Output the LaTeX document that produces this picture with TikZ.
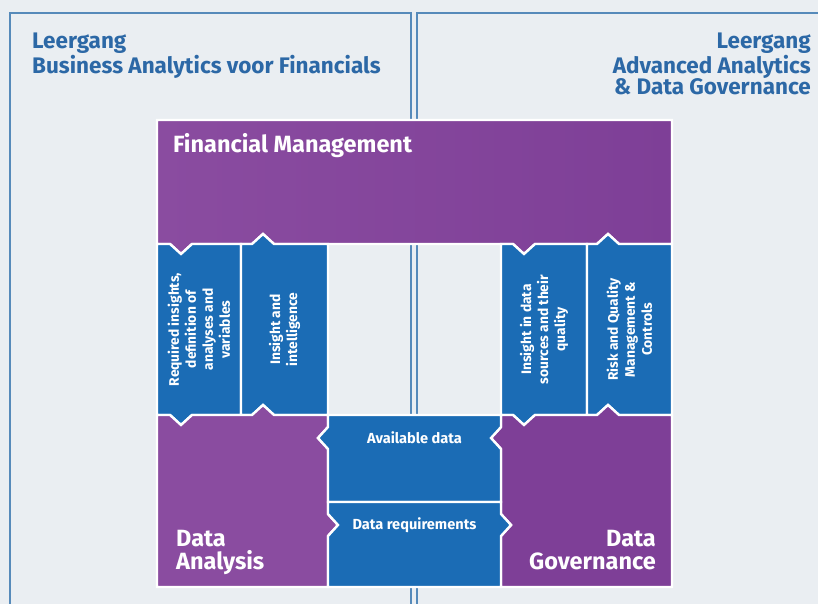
\documentclass[tikz,border=0pt]{standalone}
\usepackage{fontspec}
\setmainfont{Fira Sans}

\definecolor{pagebg}{RGB}{234,238,242}
\definecolor{framebl}{RGB}{86,138,186}
\definecolor{titlebl}{RGB}{44,104,166}
\definecolor{purpL}{RGB}{138,76,160}
\definecolor{purpR}{RGB}{126,63,151}
\definecolor{boxbl}{RGB}{27,108,181}

\tikzset{
    panel/.style={draw=framebl, line width=2pt},
    pblock/.style={draw=white, line width=2.4pt, line join=miter},
    bblock/.style={pblock, fill=boxbl},
    headtxt/.style={text=titlebl, font=\bfseries\fontsize{22.5}{21.5}\selectfont, inner sep=0pt},
    mgmttxt/.style={text=white, font=\bfseries\fontsize{23.5}{23}\selectfont, inner sep=0pt},
    vtxt/.style={text=white, font=\bfseries\fontsize{13.8}{17}\selectfont, align=center, rotate=90, inner sep=0pt},
    htxt/.style={text=white, font=\bfseries\fontsize{14.6}{16}\selectfont, inner sep=0pt}
}

\begin{document}
\begin{tikzpicture}[x=1pt, y=-1pt]
    % canvas in pixel units, y pointing down
    \useasboundingbox[fill=pagebg] (0,0) rectangle (818,604);
    % Column and row lines of the block grid
    \def\xL{157} \def\xA{241} \def\xB{328} \def\xC{501} \def\xD{587} \def\xR{672}
    \def\yT{120} \def\yA{244} \def\yB{415} \def\yM{502} \def\yE{587}
    % Arrow notches: half width, depth, positions
    \def\nw{11} \def\nd{10}
    \def\nA{181} \def\nB{263} \def\nC{524} \def\nD{608}
    \def\mA{438} \def\mB{525}

    % Two course panels
    \draw[panel] (10,13) rectangle (411,640);
    \draw[panel] (417,13) rectangle (840,640);

    % Financial Management
    \shadedraw[pblock, left color=purpL, right color=purpR]
        (\xL,\yT) -- (\xR,\yT) -- (\xR,\yA)
        -- ({\nD+\nw},\yA) -- (\nD,{\yA-\nd}) -- ({\nD-\nw},\yA)
        -- ({\nC+\nw},\yA) -- (\nC,{\yA+\nd}) -- ({\nC-\nw},\yA)
        -- ({\nB+\nw},\yA) -- (\nB,{\yA-\nd}) -- ({\nB-\nw},\yA)
        -- ({\nA+\nw},\yA) -- (\nA,{\yA+\nd}) -- ({\nA-\nw},\yA)
        -- (\xL,\yA) -- cycle;

    % Vertical boxes (s = 1: down, s = -1: up)
    \foreach \xa/\xb/\np/\s in {157/241/181/1, 241/328/263/-1, 501/587/524/1, 587/672/608/-1} {
        \draw[bblock] (\xa,\yA) -- ({\np-\nw},\yA) -- (\np,{\yA+\s*\nd}) -- ({\np+\nw},\yA)
            -- (\xb,\yA) -- (\xb,\yB) -- ({\np+\nw},\yB) -- (\np,{\yB+\s*\nd})
            -- ({\np-\nw},\yB) -- (\xa,\yB) -- cycle;
    }
    \node[vtxt] (insights) at ({(\xL+\xA)/2},{(\yA+\yB)/2})
        {Required insights,\\definition of\\analyses and\\variables};
    \node[vtxt] (intel) at ({(\xA+\xB)/2},{(\yA+\yB)/2}) {Insight and\\intelligence};
    \node[vtxt] (sources) at ({(\xC+\xD)/2},{(\yA+\yB)/2})
        {Insight in data\\sources and their\\quality};
    \node[vtxt] (risk) at ({(\xD+\xR)/2},{(\yA+\yB)/2})
        {Risk and Quality\\Management \&\\Controls};

    % Data Analysis
    \draw[pblock, fill=purpL] (\xL,\yB) -- ({\nA-\nw},\yB) -- (\nA,{\yB+\nd}) -- ({\nA+\nw},\yB)
        -- ({\nB-\nw},\yB) -- (\nB,{\yB-\nd}) -- ({\nB+\nw},\yB) -- (\xB,\yB)
        -- (\xB,{\mA-\nw}) -- ({\xB-\nd},\mA) -- (\xB,{\mA+\nw})
        -- (\xB,{\mB-\nw}) -- ({\xB+\nd},\mB) -- (\xB,{\mB+\nw})
        -- (\xB,\yE) -- (\xL,\yE) -- cycle;

    % Data Governance
    \draw[pblock, fill=purpR] (\xC,\yB) -- ({\nC-\nw},\yB) -- (\nC,{\yB+\nd}) -- ({\nC+\nw},\yB)
        -- ({\nD-\nw},\yB) -- (\nD,{\yB-\nd}) -- ({\nD+\nw},\yB) -- (\xR,\yB)
        -- (\xR,\yE) -- (\xC,\yE)
        -- (\xC,{\mB+\nw}) -- ({\xC+\nd},\mB) -- (\xC,{\mB-\nw})
        -- (\xC,{\mA+\nw}) -- ({\xC-\nd},\mA) -- (\xC,{\mA-\nw}) -- cycle;

    % Available data (to the left)
    \draw[bblock] (\xB,\yB) -- (\xC,\yB) -- (\xC,{\mA-\nw}) -- ({\xC-\nd},\mA) -- (\xC,{\mA+\nw})
        -- (\xC,\yM) -- (\xB,\yM) -- (\xB,{\mA+\nw}) -- ({\xB-\nd},\mA) -- (\xB,{\mA-\nw}) -- cycle;
    % Data requirements (to the right)
    \draw[bblock] (\xB,\yM) -- (\xC,\yM) -- (\xC,{\mB-\nw}) -- ({\xC+\nd},\mB) -- (\xC,{\mB+\nw})
        -- (\xC,\yE) -- (\xB,\yE) -- (\xB,{\mB+\nw}) -- ({\xB+\nd},\mB) -- (\xB,{\mB-\nw}) -- cycle;

    % Labels
    \node[headtxt, anchor=north west, align=left] (leftcourse) at (32,33)
        {Leergang\\Business Analytics voor Financials};
    \node[headtxt, anchor=north east, align=right] (rightcourse) at (811,33)
        {Leergang\\Advanced Analytics\\\& Data Governance};
    \node[mgmttxt, anchor=north west] (fm) at (173,133) {Financial Management};
    \node[mgmttxt, anchor=north west, align=left] (da) at (176,530) {Data\\Analysis};
    \node[mgmttxt, anchor=north east, align=right] (dg) at (656,530) {Data\\Governance};
    \node[htxt] (avail) at ({(\xB+\xC)/2},\mA) {Available data};
    \node[htxt] (req) at ({(\xB+\xC)/2},\mB) {Data requirements};
\end{tikzpicture}
\end{document}
